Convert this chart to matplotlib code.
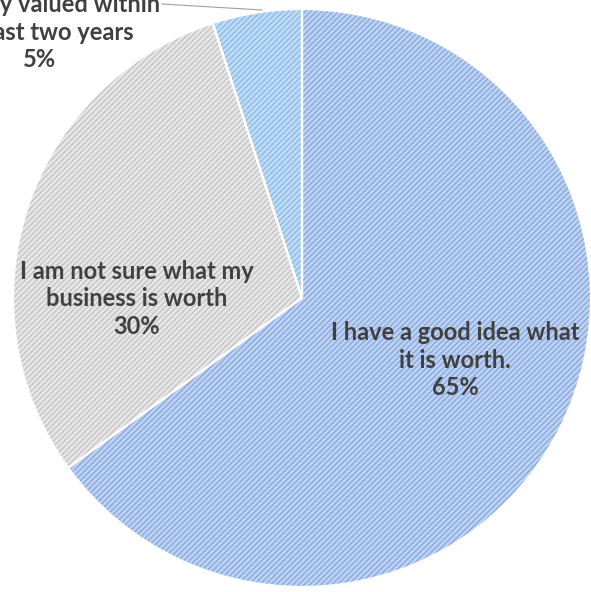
import matplotlib.pyplot as plt

plt.rcParams["hatch.linewidth"] = 0.9

# Survey answers: how well owners know what their business is worth
labels = ["I have a good idea what\nit is worth.",
          "I am not sure what my\nbusiness is worth",
          "Recently valued within\nthe last two years"]
shares = [65, 30, 5]

face_colors = ["#bdd1f1", "#e6e6e6", "#c0dbf4"]
hatch_colors = ["#85a6de", "#c2c2c2", "#86b8e6"]

W, H = 591, 592
fig = plt.figure(figsize=(W / 100, H / 100), dpi=100)
ax = fig.add_axes([0, 0, 1, 1])

cx, cy, r = 302, H - 298, 289

# hatched fill first (hatch takes the edge colour), then white borders on top
wedges, _ = ax.pie(shares, startangle=90, counterclock=False,
                   center=(cx, cy), radius=r, frame=True,
                   wedgeprops=dict(linewidth=0))
for w, fc, hc in zip(wedges, face_colors, hatch_colors):
    w.set_facecolor(fc)
    w.set_edgecolor(hc)
    w.set_hatch("//////")

ax.pie(shares, startangle=90, counterclock=False,
       center=(cx, cy), radius=r, frame=True,
       wedgeprops=dict(facecolor="none", edgecolor="white", linewidth=1.6))

txt = dict(ha="center", va="center", fontsize=17, fontweight="bold",
           color="#404040", family=["Lato", "DejaVu Sans"], linespacing=1.25)

ax.text(455, H - 360, f"{labels[0]}\n{shares[0]}%", **txt)
ax.text(137, H - 299, f"{labels[1]}\n{shares[1]}%", **txt)
ax.text(40, H - 32, f"{labels[2]}\n{shares[2]}%", **txt)

# leader line for the small slice
ax.plot([162, 262], [H - 4, H - 10], color="#a0a0a0", lw=0.8)

ax.set_xlim(0, W)
ax.set_ylim(0, H)
ax.set_aspect("auto")
ax.axis("off")

fig.savefig("out.png", dpi=100)
